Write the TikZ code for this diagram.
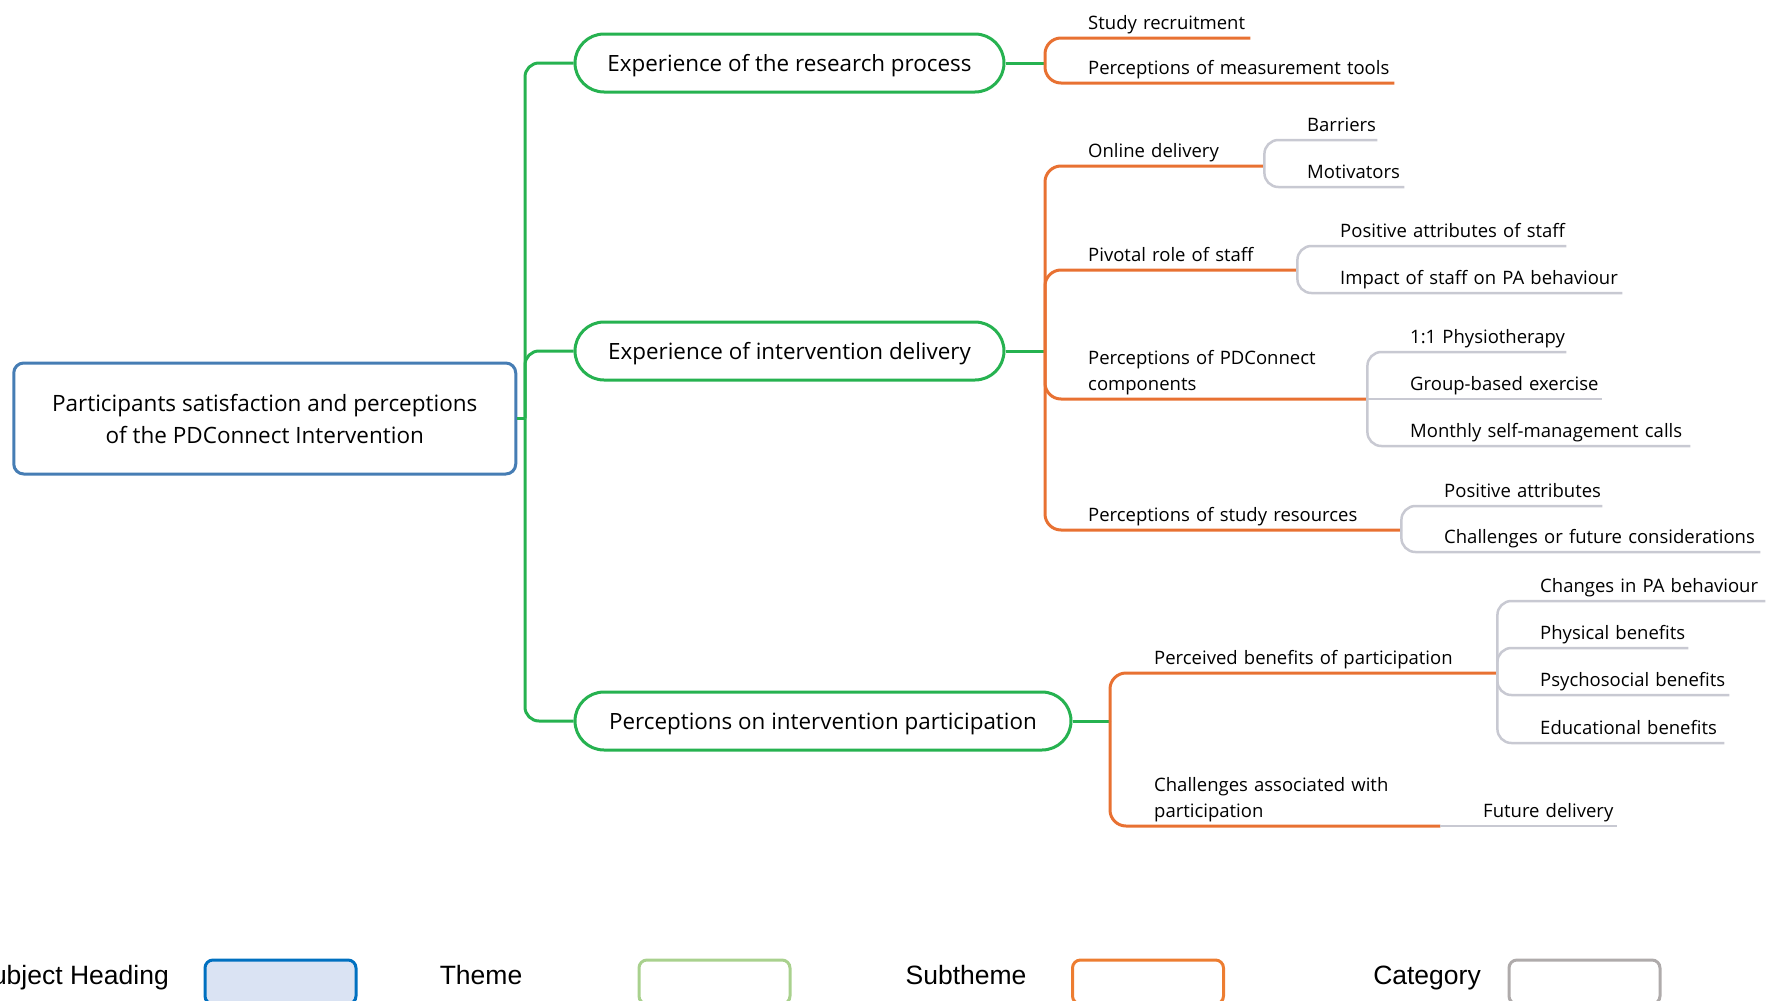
\documentclass[tikz,border=0pt]{standalone}
\usepackage{fontspec}
\setmainfont{Open Sans}
\newfontfamily\legendfont{Liberation Sans}
\definecolor{rootblue}{RGB}{70,125,180}
\definecolor{themegreen}{RGB}{38,178,80}
\definecolor{suborange}{RGB}{232,113,50}
\definecolor{catgray}{RGB}{200,201,210}
\definecolor{legblue}{RGB}{0,112,192}
\definecolor{legbluefill}{RGB}{218,227,243}
\definecolor{leggreen}{RGB}{169,209,142}
\definecolor{legorange}{RGB}{237,125,49}
\definecolor{leggray}{RGB}{175,171,171}
\begin{document}
\begin{tikzpicture}[x=1pt,y=-1pt,
  rootbox/.style={draw=rootblue, line width=3pt, rounded corners=10pt, fill=white,
    minimum width=502pt, minimum height=111pt, align=center, inner sep=0pt,
    font=\fontsize{22.5}{32}\selectfont},
  themebox/.style={draw=themegreen, line width=3pt, rounded corners=29pt, fill=white,
    minimum height=58pt, inner sep=0pt, text height=16pt, text depth=0pt,
    font=\fontsize{22.4}{26}\selectfont},
  topic/.style={text width=#1, align=left, inner xsep=0pt, inner ysep=1pt,
    anchor=south west, font=\fontsize{18.5}{26}\selectfont,
    execute at end node=\strut},
  greenline/.style={draw=themegreen, line width=3pt, rounded corners=14pt},
  orangeline/.style={draw=suborange, line width=3pt, rounded corners=16pt},
  grayline/.style={draw=catgray, line width=2.5pt, rounded corners=14pt},
  legtext/.style={font=\legendfont\fontsize{26.5}{30}\selectfont, inner sep=0pt,
    text height=19pt, text depth=0pt},
  legbox/.style={line width=3pt, rounded corners=8pt, minimum width=151pt,
    minimum height=44pt, inner sep=0pt},
]
\useasboundingbox (0,0) rectangle (1767,1001);
\clip (0,0) rectangle (1767,1001);

% central heading and themes
\node[rootbox] (root) at (264.75,418.5)
  {Participants satisfaction and perceptions\\of the PDConnect Intervention};
\node[themebox, minimum width=429pt] (t1) at (789.5,63) {Experience of the research process};
\node[themebox, minimum width=429pt] (t2) at (789.5,351) {Experience of intervention delivery};
\node[themebox, minimum width=496pt] (t3) at (823,721) {Perceptions on intervention participation};

\coordinate (hub) at (525,418.5);
\coordinate (j1) at (1045,63);
\coordinate (j2) at (1045,351);
\coordinate (j3) at (1110,721);

% subthemes
\node[topic=162pt] (s11) at (1088,38) {Study recruitment};
\node[topic=306pt] (s12) at (1088,83) {Perceptions of measurement tools};
\node[topic=176pt] (s21) at (1088,166) {Online delivery};
\node[topic=209pt] (s22) at (1088,270) {Pivotal role of staff};
\node[topic=279pt] (s23) at (1088,399) {Perceptions of PDConnect\\components};
\node[topic=313pt] (s24) at (1088,530) {Perceptions of study resources};
\node[topic=343pt] (s31) at (1154,673) {Perceived benefits of participation};
\node[topic=286pt] (s32) at (1154,826) {Challenges associated with\\participation};

% categories
\node[topic=70pt]  (c211) at (1307,140) {Barriers};
\node[topic=97pt]  (c212) at (1307,187) {Motivators};
\node[topic=226pt] (c221) at (1340,246) {Positive attributes of staff};
\node[topic=282pt] (c222) at (1340,293) {Impact of staff on PA behaviour};
\node[topic=156pt] (c231) at (1410,352) {1:1 Physiotherapy};
\node[topic=192pt] (c232) at (1410,399) {Group-based exercise};
\node[topic=280pt] (c233) at (1410,446) {Monthly self-management calls};
\node[topic=158pt] (c241) at (1444,506) {Positive attributes};
\node[topic=316pt] (c242) at (1444,552) {Challenges or future considerations};
\node[topic=225pt] (c311) at (1540,601) {Changes in PA behaviour};
\node[topic=148pt] (c312) at (1540,648) {Physical benefits};
\node[topic=189pt] (c313) at (1540,695) {Psychosocial benefits};
\node[topic=184pt] (c314) at (1540,743) {Educational benefits};
\node[topic=134pt] (c321) at (1483,826) {Future delivery};

% heading to themes
\draw[greenline] (root.east) -- (hub);
\draw[greenline] (hub) |- (t1.west);
\draw[greenline] (hub) |- (t2.west);
\draw[greenline] (hub) |- (t3.west);
\draw[greenline] (t1.east) -- (j1);
\draw[greenline] (t2.east) -- (j2);
\draw[greenline] (t3.east) -- (j3);

% themes to subthemes
\draw[orangeline] (j1) |- (s11.south east);
\draw[orangeline] (j1) |- (s12.south east);
\draw[orangeline] (j2) |- (s21.south east);
\draw[orangeline] (j2) |- (s22.south east);
\draw[orangeline] (j2) |- (s23.south east);
\draw[orangeline] (j2) |- (s24.south east);
\draw[orangeline] (j3) |- (s31.south east);
\draw[orangeline] (j3) |- (s32.south east);

% subthemes to categories
\draw[grayline] (s21.south east) |- (c211.south east);
\draw[grayline] (s21.south east) |- (c212.south east);
\draw[grayline] (s22.south east) |- (c221.south east);
\draw[grayline] (s22.south east) |- (c222.south east);
\draw[grayline] (s23.south east) |- (c231.south east);
\draw[grayline] (s23.south east) -- (c232.south east);
\draw[grayline] (s23.south east) |- (c233.south east);
\draw[grayline] (s24.south east) |- (c241.south east);
\draw[grayline] (s24.south east) |- (c242.south east);
\draw[grayline] (s31.south east) |- (c311.south east);
\draw[grayline] (s31.south east) |- (c312.south east);
\draw[grayline] (s31.south east) |- (c313.south east);
\draw[grayline] (s31.south east) |- (c314.south east);
\draw[grayline] (s32.south east) -- (c321.south east);

% legend
\node[legtext, anchor=east] (lt1) at (169,975) {Subject Heading};
\node[legbox, draw=legblue, fill=legbluefill] (lb1) at (280.5,982) {};
\node[legtext] (lt2) at (481,975) {Theme};
\node[legbox, draw=leggreen] (lb2) at (714.5,982) {};
\node[legtext] (lt3) at (966,975) {Subtheme};
\node[legbox, draw=legorange] (lb3) at (1148,982) {};
\node[legtext] (lt4) at (1427,975) {Category};
\node[legbox, draw=leggray] (lb4) at (1584.5,982) {};
\end{tikzpicture}
\end{document}
